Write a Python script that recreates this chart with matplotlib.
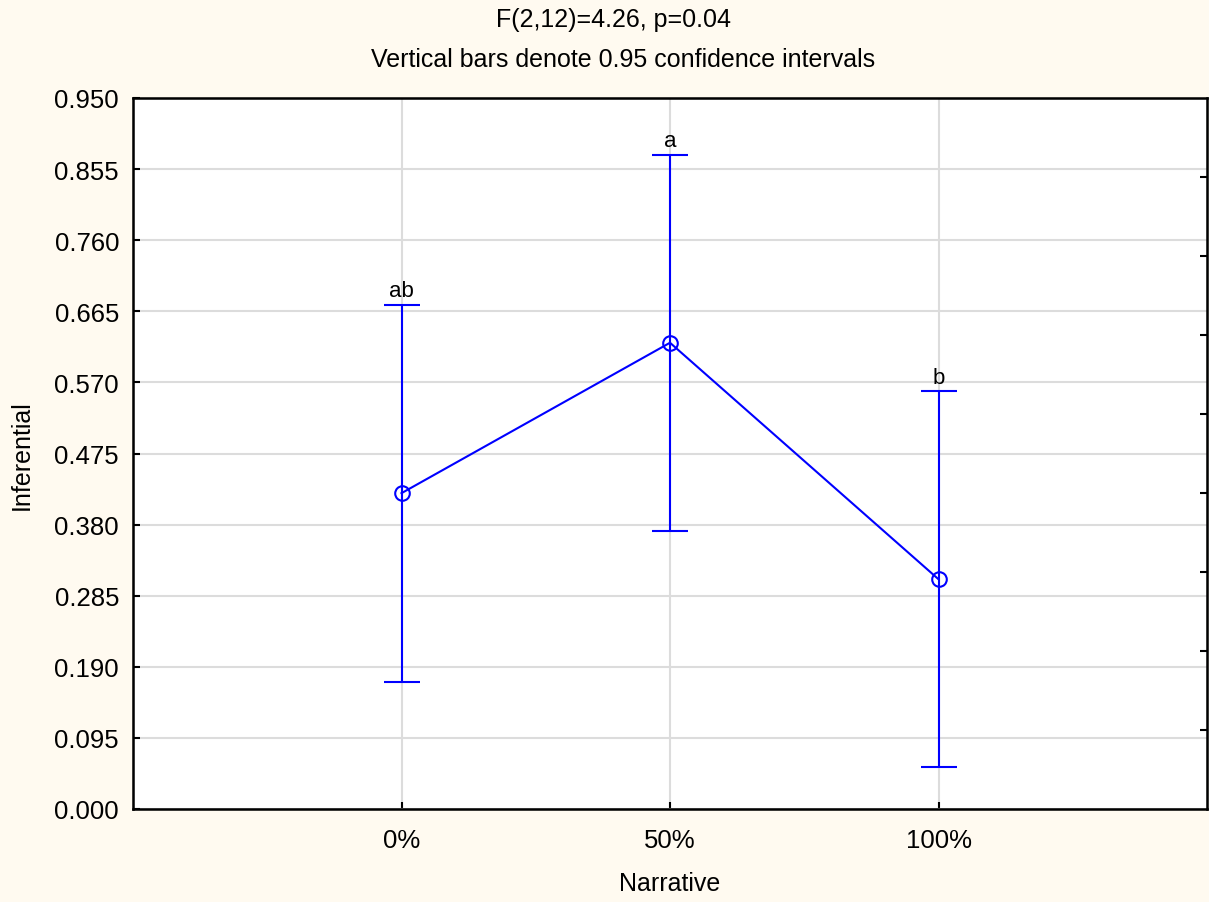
import numpy as np
import matplotlib
matplotlib.use("Agg")
import matplotlib.pyplot as plt

plt.rcParams['font.family'] = ['Liberation Sans', 'DejaVu Sans']

# ========== DATA ==========
categories = ['0%', '50%', '100%']
means = [0.422, 0.623, 0.307]
ci_half = [0.252, 0.251, 0.251]
letters = ['ab', 'a', 'b']
y_ticks = [0.000, 0.095, 0.190, 0.285, 0.380, 0.475, 0.570, 0.665, 0.760, 0.855, 0.950]

BG = '#FFFAF0'
BLUE = '#0000FF'
FS = 18

fig = plt.figure(figsize=(12.09, 9.03), dpi=100, facecolor=BG)
ax = fig.add_axes([133 / 1209, 93 / 903, 1074 / 1209, 711 / 903])
ax.set_facecolor('white')

x = np.arange(1, len(categories) + 1)
ax.errorbar(x, means, yerr=ci_half, color=BLUE, lw=1.5, capsize=13, capthick=1.5,
            marker='o', markersize=10.5, markerfacecolor='none', markeredgecolor=BLUE,
            markeredgewidth=1.5, zorder=3)

for xi, m, h, lab in zip(x, means, ci_half, letters):
    ax.text(xi, m + h + 0.005, lab, ha='center', va='bottom', fontsize=16)

ax.set_xlim(0, 4)
ax.set_ylim(0, 0.95)
ax.set_xticks(x)
ax.set_xticklabels(categories)
ax.set_yticks(y_ticks)
ax.set_yticklabels([f'{t:.3f}' for t in y_ticks])
ax.grid(True, color='#DCDCDC', lw=1.5, zorder=0)
ax.set_axisbelow(True)

ax.tick_params(direction='in', length=5, width=1.5, labelsize=FS + 0.5, pad=10)
ax.tick_params(axis='x', pad=14)
for s in ax.spines.values():
    s.set_linewidth(1.8)

# right-side ticks at ninths, no labels
ax2 = ax.twinx()
ax2.set_ylim(0, 1)
ax2.set_yticks(np.arange(1, 9) / 9)
ax2.set_yticklabels([])
ax2.tick_params(direction='in', length=5, width=1.5)

fig.text(22 / 1209, 1 - 455 / 903, 'Inferential', ha='center', va='center',
         rotation=90, fontsize=FS)
fig.text(670 / 1209, 1 - 884 / 903, 'Narrative', ha='center', va='center', fontsize=FS)
fig.text(613 / 1209, 1 - 20 / 903, 'F(2,12)=4.26, p=0.04', ha='center', va='center', fontsize=FS)
fig.text(623 / 1209, 1 - 60 / 903, 'Vertical bars denote 0.95 confidence intervals',
         ha='center', va='center', fontsize=FS)

plt.savefig('out.png', dpi=100, facecolor=BG)
